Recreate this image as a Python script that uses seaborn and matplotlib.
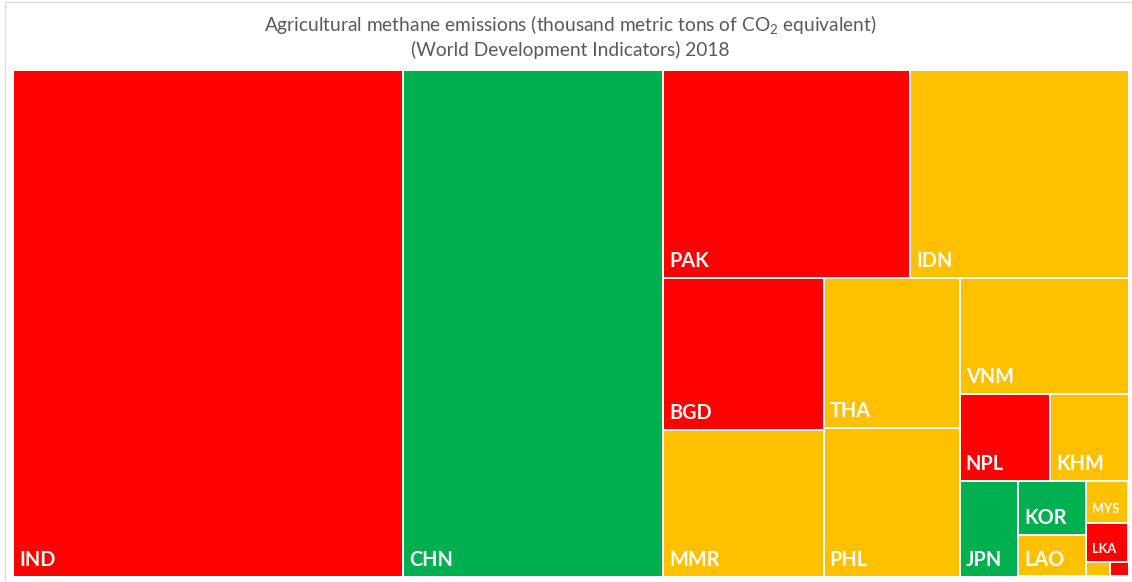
import matplotlib
matplotlib.use("Agg")
import matplotlib.pyplot as plt
import seaborn as sns
from matplotlib.patches import Rectangle
from matplotlib.lines import Line2D

# Agricultural methane emissions, thousand metric tons of CO2 equivalent (2018)
countries = ["IND", "CHN", "PAK", "IDN", "BGD", "MMR", "THA", "PHL", "VNM",
             "NPL", "KHM", "JPN", "KOR", "LAO", "MYS", "LKA", "TLS", "BTN"]
emissions = [436300, 290000, 113300, 100200, 54100, 51800, 45200, 44400, 43400,
             17300, 14900, 12400, 8100, 6200, 4000, 3700, 770, 600]
subregions = ["South Asia", "East Asia", "South Asia", "Southeast Asia", "South Asia",
              "Southeast Asia", "Southeast Asia", "Southeast Asia", "Southeast Asia",
              "South Asia", "Southeast Asia", "East Asia", "East Asia", "Southeast Asia",
              "Southeast Asia", "South Asia", "Southeast Asia", "South Asia"]
subregion_colors = {"South Asia": "#FF0000", "East Asia": "#00B050",
                    "Southeast Asia": "#FFC000"}

title_line1 = "Agricultural methane emissions (thousand metric tons of CO$\\mathregular{_2}$ equivalent)"
title_line2 = "(World Development Indicators) 2018"

sns.set_theme(style="white")
plt.rcParams["font.family"] = ["Lato", "DejaVu Sans"]
plt.rcParams["mathtext.fontset"] = "custom"
plt.rcParams["mathtext.rm"] = "Lato"

FIG_W, FIG_H = 1132, 582
fig = plt.figure(figsize=(FIG_W / 100, FIG_H / 100), dpi=100)

# plotting area in pixels
left, right, top, bottom = 13.0, 1128.5, 70.0, 576.5
W, H = right - left, bottom - top
ax = fig.add_axes([left / FIG_W, 1 - bottom / FIG_H, W / FIG_W, H / FIG_H])
ax.set_xlim(0, W)
ax.set_ylim(H, 0)
ax.axis("off")


def worst_ratio(row, side):
    s = sum(row)
    return max(max(side * side * r / (s * s), (s * s) / (side * side * r)) for r in row)


def squarify(sizes, x, y, w, h):
    """Squarified treemap layout; sizes must sum to w*h."""
    rects = []
    items = list(sizes)
    while items:
        side = min(w, h)
        row = [items.pop(0)]
        while items and worst_ratio(row + [items[0]], side) <= worst_ratio(row, side):
            row.append(items.pop(0))
        s = sum(row)
        if w >= h:
            t = s / h
            yy = y
            for r in row:
                rh = r / t
                rects.append((x, yy, t, rh))
                yy += rh
            x += t
            w -= t
        else:
            t = s / w
            xx = x
            for r in row:
                rw = r / t
                rects.append((xx, y, rw, t))
                xx += rw
            y += t
            h -= t
    return rects


total = sum(emissions)
scaled = [v * W * H / total for v in emissions]
rects = squarify(scaled, 0.0, 0.0, W, H)

fig.canvas.draw()
renderer = fig.canvas.get_renderer()

BIG, SMALL = 14.3, 9.2
for (x, y, w, h), code, reg in zip(rects, countries, subregions):
    ax.add_patch(Rectangle((x, y), w, h, facecolor=subregion_colors[reg],
                           edgecolor="white", linewidth=1.44))
    vis_w, vis_h = w - 2, h - 2
    for txt, size, pad_b, cap in ((code, BIG, 10, 14.3), (code, SMALL, 8.5, 9.2),
                                  ("...", SMALL, 8.5, 9.2)):
        t = ax.text(x + 6.2, y + h - 1 - pad_b, txt, fontsize=size, fontweight="bold",
                    color="white", ha="left", va="baseline")
        bb = t.get_window_extent(renderer=renderer)
        if bb.width + 5.5 + 2 <= vis_w and cap + pad_b + 2 <= vis_h:
            break
        t.remove()

fig.text(570 / FIG_W, 1 - 24 / FIG_H, title_line1, ha="center", va="center",
         fontsize=13.8, color="#595959")
fig.text(570 / FIG_W, 1 - 50 / FIG_H, title_line2, ha="center", va="center",
         fontsize=13.8, color="#595959")

# chart-area border
fig.add_artist(Line2D([4.5 / FIG_W, 4.5 / FIG_W], [0, 1 - 1.5 / FIG_H],
                      transform=fig.transFigure, color="#D9D9D9", linewidth=0.8))
fig.add_artist(Line2D([4.5 / FIG_W, 1], [1 - 1.5 / FIG_H, 1 - 1.5 / FIG_H],
                      transform=fig.transFigure, color="#D9D9D9", linewidth=0.8))

fig.savefig("out.png", dpi=100, facecolor="white")
